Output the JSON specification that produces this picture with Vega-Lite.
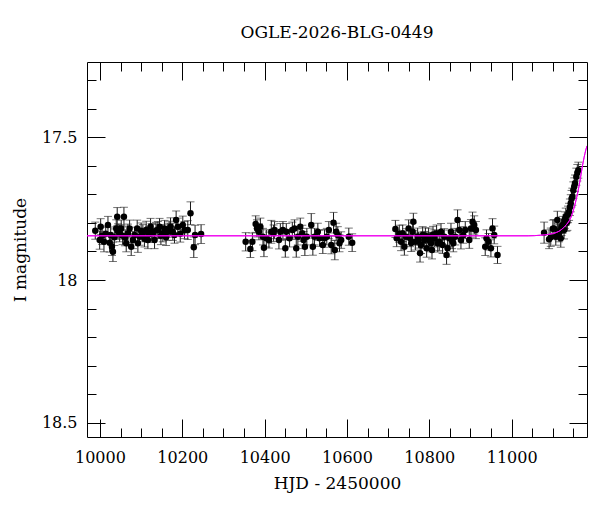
{
  "$schema": "https://vega.github.io/schema/vega-lite/v6.json",
  "description": "OGLE EWS style light curve with Paczynski model rising at the end.",
  "width": 500,
  "height": 375,
  "autosize": {"type": "none"},
  "padding": {"left": 87, "top": 62, "right": 13, "bottom": 75},
  "background": "white",
  "title": {
    "text": "OGLE-2026-BLG-0449",
    "font": "DejaVu Serif",
    "fontSize": 17,
    "fontWeight": "normal",
    "color": "black",
    "anchor": "middle",
    "offset": 20
  },
  "datasets": {
    "phot": [
      {"t": 9988.6, "mag": 17.827, "err": 0.030},
      {"t": 9999.3, "mag": 17.860, "err": 0.032},
      {"t": 10001.7, "mag": 17.813, "err": 0.028},
      {"t": 10005.0, "mag": 17.845, "err": 0.030},
      {"t": 10009.7, "mag": 17.866, "err": 0.035},
      {"t": 10014.0, "mag": 17.838, "err": 0.027},
      {"t": 10019.4, "mag": 17.807, "err": 0.030},
      {"t": 10023.5, "mag": 17.869, "err": 0.033},
      {"t": 10026.0, "mag": 17.842, "err": 0.028},
      {"t": 10029.1, "mag": 17.883, "err": 0.031},
      {"t": 10031.5, "mag": 17.901, "err": 0.034},
      {"t": 10035.0, "mag": 17.850, "err": 0.029},
      {"t": 10039.5, "mag": 17.819, "err": 0.030},
      {"t": 10041.9, "mag": 17.778, "err": 0.032},
      {"t": 10044.0, "mag": 17.830, "err": 0.027},
      {"t": 10047.8, "mag": 17.836, "err": 0.030},
      {"t": 10051.6, "mag": 17.819, "err": 0.029},
      {"t": 10055.0, "mag": 17.845, "err": 0.031},
      {"t": 10058.2, "mag": 17.778, "err": 0.033},
      {"t": 10061.0, "mag": 17.852, "err": 0.028},
      {"t": 10063.8, "mag": 17.871, "err": 0.030},
      {"t": 10067.9, "mag": 17.836, "err": 0.032},
      {"t": 10072.0, "mag": 17.819, "err": 0.029},
      {"t": 10075.9, "mag": 17.883, "err": 0.031},
      {"t": 10080.0, "mag": 17.860, "err": 0.030},
      {"t": 10084.0, "mag": 17.842, "err": 0.027},
      {"t": 10090.4, "mag": 17.819, "err": 0.029},
      {"t": 10092.1, "mag": 17.871, "err": 0.032},
      {"t": 10096.2, "mag": 17.848, "err": 0.030},
      {"t": 10100.0, "mag": 17.828, "err": 0.028},
      {"t": 10104.2, "mag": 17.836, "err": 0.030},
      {"t": 10108.0, "mag": 17.855, "err": 0.029},
      {"t": 10112.2, "mag": 17.825, "err": 0.031},
      {"t": 10116.4, "mag": 17.860, "err": 0.030},
      {"t": 10119.0, "mag": 17.840, "err": 0.028},
      {"t": 10122.9, "mag": 17.813, "err": 0.029},
      {"t": 10125.5, "mag": 17.832, "err": 0.030},
      {"t": 10128.5, "mag": 17.836, "err": 0.031},
      {"t": 10132.6, "mag": 17.860, "err": 0.030},
      {"t": 10136.0, "mag": 17.826, "err": 0.028},
      {"t": 10140.6, "mag": 17.825, "err": 0.030},
      {"t": 10144.7, "mag": 17.813, "err": 0.029},
      {"t": 10148.0, "mag": 17.845, "err": 0.031},
      {"t": 10152.7, "mag": 17.836, "err": 0.030},
      {"t": 10156.8, "mag": 17.819, "err": 0.028},
      {"t": 10160.5, "mag": 17.850, "err": 0.029},
      {"t": 10164.8, "mag": 17.831, "err": 0.030},
      {"t": 10168.0, "mag": 17.822, "err": 0.028},
      {"t": 10171.4, "mag": 17.813, "err": 0.031},
      {"t": 10177.0, "mag": 17.831, "err": 0.030},
      {"t": 10181.0, "mag": 17.842, "err": 0.029},
      {"t": 10185.0, "mag": 17.790, "err": 0.032},
      {"t": 10189.1, "mag": 17.813, "err": 0.030},
      {"t": 10195.0, "mag": 17.838, "err": 0.029},
      {"t": 10201.2, "mag": 17.807, "err": 0.031},
      {"t": 10205.3, "mag": 17.825, "err": 0.030},
      {"t": 10213.3, "mag": 17.825, "err": 0.033},
      {"t": 10219.9, "mag": 17.766, "err": 0.040},
      {"t": 10227.9, "mag": 17.885, "err": 0.036},
      {"t": 10231.0, "mag": 17.842, "err": 0.034},
      {"t": 10245.6, "mag": 17.839, "err": 0.033},
      {"t": 10353.9, "mag": 17.866, "err": 0.032},
      {"t": 10365.3, "mag": 17.891, "err": 0.030},
      {"t": 10370.2, "mag": 17.866, "err": 0.031},
      {"t": 10378.2, "mag": 17.804, "err": 0.029},
      {"t": 10381.3, "mag": 17.819, "err": 0.030},
      {"t": 10386.2, "mag": 17.831, "err": 0.028},
      {"t": 10389.6, "mag": 17.813, "err": 0.030},
      {"t": 10395.9, "mag": 17.848, "err": 0.029},
      {"t": 10398.3, "mag": 17.887, "err": 0.031},
      {"t": 10404.1, "mag": 17.854, "err": 0.030},
      {"t": 10410.4, "mag": 17.860, "err": 0.028},
      {"t": 10416.2, "mag": 17.831, "err": 0.040},
      {"t": 10421.8, "mag": 17.836, "err": 0.029},
      {"t": 10424.2, "mag": 17.825, "err": 0.030},
      {"t": 10434.7, "mag": 17.860, "err": 0.031},
      {"t": 10438.1, "mag": 17.831, "err": 0.029},
      {"t": 10444.4, "mag": 17.825, "err": 0.030},
      {"t": 10450.2, "mag": 17.889, "err": 0.031},
      {"t": 10452.6, "mag": 17.831, "err": 0.029},
      {"t": 10460.6, "mag": 17.854, "err": 0.030},
      {"t": 10467.2, "mag": 17.825, "err": 0.028},
      {"t": 10472.7, "mag": 17.819, "err": 0.030},
      {"t": 10476.8, "mag": 17.889, "err": 0.031},
      {"t": 10480.7, "mag": 17.848, "err": 0.029},
      {"t": 10486.5, "mag": 17.813, "err": 0.030},
      {"t": 10491.4, "mag": 17.836, "err": 0.028},
      {"t": 10494.5, "mag": 17.860, "err": 0.030},
      {"t": 10497.7, "mag": 17.883, "err": 0.031},
      {"t": 10502.5, "mag": 17.848, "err": 0.029},
      {"t": 10513.2, "mag": 17.807, "err": 0.040},
      {"t": 10517.1, "mag": 17.883, "err": 0.030},
      {"t": 10521.2, "mag": 17.848, "err": 0.029},
      {"t": 10529.2, "mag": 17.831, "err": 0.030},
      {"t": 10533.3, "mag": 17.854, "err": 0.028},
      {"t": 10541.3, "mag": 17.877, "err": 0.030},
      {"t": 10545.5, "mag": 17.854, "err": 0.031},
      {"t": 10551.0, "mag": 17.848, "err": 0.029},
      {"t": 10555.9, "mag": 17.825, "err": 0.030},
      {"t": 10561.7, "mag": 17.877, "err": 0.031},
      {"t": 10567.3, "mag": 17.799, "err": 0.036},
      {"t": 10570.4, "mag": 17.895, "err": 0.034},
      {"t": 10573.8, "mag": 17.831, "err": 0.030},
      {"t": 10577.7, "mag": 17.842, "err": 0.029},
      {"t": 10581.8, "mag": 17.871, "err": 0.030},
      {"t": 10585.9, "mag": 17.860, "err": 0.029},
      {"t": 10604.4, "mag": 17.848, "err": 0.030},
      {"t": 10612.6, "mag": 17.869, "err": 0.031},
      {"t": 10717.6, "mag": 17.821, "err": 0.030},
      {"t": 10720.7, "mag": 17.854, "err": 0.029},
      {"t": 10727.0, "mag": 17.838, "err": 0.030},
      {"t": 10731.4, "mag": 17.866, "err": 0.031},
      {"t": 10735.3, "mag": 17.836, "err": 0.029},
      {"t": 10739.4, "mag": 17.883, "err": 0.030},
      {"t": 10743.5, "mag": 17.848, "err": 0.028},
      {"t": 10749.8, "mag": 17.819, "err": 0.030},
      {"t": 10753.2, "mag": 17.854, "err": 0.029},
      {"t": 10756.0, "mag": 17.870, "err": 0.030},
      {"t": 10759.5, "mag": 17.831, "err": 0.031},
      {"t": 10761.2, "mag": 17.796, "err": 0.030},
      {"t": 10766.1, "mag": 17.866, "err": 0.029},
      {"t": 10771.6, "mag": 17.848, "err": 0.030},
      {"t": 10774.0, "mag": 17.860, "err": 0.028},
      {"t": 10777.5, "mag": 17.906, "err": 0.031},
      {"t": 10779.9, "mag": 17.877, "err": 0.030},
      {"t": 10783.8, "mag": 17.842, "err": 0.029},
      {"t": 10787.9, "mag": 17.860, "err": 0.030},
      {"t": 10790.5, "mag": 17.845, "err": 0.028},
      {"t": 10793.5, "mag": 17.889, "err": 0.031},
      {"t": 10798.3, "mag": 17.848, "err": 0.030},
      {"t": 10801.0, "mag": 17.862, "err": 0.029},
      {"t": 10804.1, "mag": 17.871, "err": 0.030},
      {"t": 10806.5, "mag": 17.895, "err": 0.031},
      {"t": 10809.0, "mag": 17.840, "err": 0.028},
      {"t": 10812.1, "mag": 17.854, "err": 0.030},
      {"t": 10817.7, "mag": 17.836, "err": 0.029},
      {"t": 10820.5, "mag": 17.872, "err": 0.030},
      {"t": 10824.2, "mag": 17.866, "err": 0.031},
      {"t": 10828.4, "mag": 17.831, "err": 0.029},
      {"t": 10832.2, "mag": 17.877, "err": 0.030},
      {"t": 10836.4, "mag": 17.848, "err": 0.028},
      {"t": 10841.9, "mag": 17.912, "err": 0.033},
      {"t": 10844.4, "mag": 17.889, "err": 0.030},
      {"t": 10848.5, "mag": 17.854, "err": 0.029},
      {"t": 10852.6, "mag": 17.831, "err": 0.030},
      {"t": 10855.5, "mag": 17.862, "err": 0.028},
      {"t": 10858.2, "mag": 17.871, "err": 0.030},
      {"t": 10863.0, "mag": 17.848, "err": 0.029},
      {"t": 10868.6, "mag": 17.790, "err": 0.036},
      {"t": 10872.7, "mag": 17.825, "err": 0.030},
      {"t": 10876.8, "mag": 17.860, "err": 0.031},
      {"t": 10882.4, "mag": 17.842, "err": 0.029},
      {"t": 10887.3, "mag": 17.825, "err": 0.030},
      {"t": 10897.0, "mag": 17.860, "err": 0.029},
      {"t": 10901.1, "mag": 17.819, "err": 0.031},
      {"t": 10905.0, "mag": 17.796, "err": 0.034},
      {"t": 10909.1, "mag": 17.807, "err": 0.032},
      {"t": 10913.2, "mag": 17.825, "err": 0.030},
      {"t": 10935.8, "mag": 17.883, "err": 0.031},
      {"t": 10938.9, "mag": 17.854, "err": 0.030},
      {"t": 10943.8, "mag": 17.866, "err": 0.029},
      {"t": 10949.6, "mag": 17.889, "err": 0.030},
      {"t": 10953.5, "mag": 17.819, "err": 0.034},
      {"t": 10957.6, "mag": 17.842, "err": 0.031},
      {"t": 10965.6, "mag": 17.912, "err": 0.030},
      {"t": 11078.8, "mag": 17.834, "err": 0.037},
      {"t": 11090.9, "mag": 17.857, "err": 0.033},
      {"t": 11095.0, "mag": 17.850, "err": 0.032},
      {"t": 11100.0, "mag": 17.820, "err": 0.030},
      {"t": 11103.0, "mag": 17.819, "err": 0.031},
      {"t": 11107.2, "mag": 17.848, "err": 0.030},
      {"t": 11111.0, "mag": 17.790, "err": 0.031},
      {"t": 11113.0, "mag": 17.830, "err": 0.029},
      {"t": 11115.2, "mag": 17.836, "err": 0.030},
      {"t": 11119.3, "mag": 17.854, "err": 0.031},
      {"t": 11121.0, "mag": 17.815, "err": 0.029},
      {"t": 11123.2, "mag": 17.807, "err": 0.030},
      {"t": 11127.3, "mag": 17.825, "err": 0.031},
      {"t": 11129.0, "mag": 17.790, "err": 0.029},
      {"t": 11131.4, "mag": 17.778, "err": 0.030},
      {"t": 11133.0, "mag": 17.800, "err": 0.029},
      {"t": 11135.3, "mag": 17.796, "err": 0.030},
      {"t": 11137.0, "mag": 17.770, "err": 0.029},
      {"t": 11139.4, "mag": 17.761, "err": 0.030},
      {"t": 11141.5, "mag": 17.745, "err": 0.029},
      {"t": 11143.5, "mag": 17.731, "err": 0.030},
      {"t": 11145.5, "mag": 17.715, "err": 0.029},
      {"t": 11147.4, "mag": 17.708, "err": 0.030},
      {"t": 11149.8, "mag": 17.685, "err": 0.029},
      {"t": 11152.0, "mag": 17.672, "err": 0.030},
      {"t": 11153.9, "mag": 17.661, "err": 0.029},
      {"t": 11157.1, "mag": 17.638, "err": 0.030},
      {"t": 11159.5, "mag": 17.624, "err": 0.029},
      {"t": 11161.9, "mag": 17.615, "err": 0.028}
    ],
    "model": [
      {"t": 9968.5, "mag": 17.845},
      {"t": 11040, "mag": 17.845},
      {"t": 11070, "mag": 17.843},
      {"t": 11090, "mag": 17.840},
      {"t": 11105, "mag": 17.835},
      {"t": 11115, "mag": 17.829},
      {"t": 11125, "mag": 17.818},
      {"t": 11133, "mag": 17.806},
      {"t": 11140, "mag": 17.792},
      {"t": 11146, "mag": 17.773},
      {"t": 11151, "mag": 17.750},
      {"t": 11156, "mag": 17.722},
      {"t": 11161, "mag": 17.690},
      {"t": 11166, "mag": 17.652},
      {"t": 11171, "mag": 17.608},
      {"t": 11176, "mag": 17.570},
      {"t": 11180, "mag": 17.545},
      {"t": 11183, "mag": 17.530}
    ]
  },
  "resolve": {"axis": {"x": "independent", "y": "independent"}},
  "layer": [
    {
      "data": {"name": "phot"},
      "mark": {
        "type": "errorbar",
        "rule": {"color": "#1a1a1a", "strokeWidth": 1},
        "ticks": {"size": 8, "color": "#3a3a3a", "thickness": 1}
      },
      "encoding": {
        "x": {
          "field": "t", "type": "quantitative",
          "scale": {"domain": [9968.5, 11183], "nice": false, "zero": false},
          "axis": {"orient": "bottom", "values": [10000, 10050, 10100, 10150, 10200, 10250, 10300, 10350, 10400, 10450, 10500, 10550, 10600, 10650, 10700, 10750, 10800, 10850, 10900, 10950, 11000, 11050, 11100, 11150], "tickSize": -9, "labels": false, "title": null}
        },
        "y": {
          "field": "mag", "type": "quantitative",
          "scale": {"domain": [17.236, 18.55], "reverse": true, "nice": false, "zero": false},
          "axis": {"orient": "left", "values": [17.3, 17.4, 17.5, 17.6, 17.7, 17.8, 17.9, 18.0, 18.1, 18.2, 18.3, 18.4, 18.5], "tickSize": -9, "labels": false, "title": null}
        },
        "yError": {"field": "err"}
      }
    },
    {
      "data": {"name": "phot"},
      "mark": {"type": "circle", "size": 42, "color": "black", "opacity": 1},
      "encoding": {
        "x": {
          "field": "t", "type": "quantitative",
          "scale": {"domain": [9968.5, 11183], "nice": false, "zero": false},
          "axis": {"orient": "bottom", "values": [10000, 10200, 10400, 10600, 10800, 11000], "format": "d", "tickSize": -18, "labelPadding": 30, "title": "HJD - 2450000", "titlePadding": 10}
        },
        "y": {
          "field": "mag", "type": "quantitative",
          "scale": {"domain": [17.236, 18.55], "reverse": true, "nice": false, "zero": false},
          "axis": {"orient": "left", "values": [17.5, 18, 18.5], "format": "~g", "tickSize": -18, "labelPadding": 28, "title": "I magnitude", "titlePadding": 12}
        }
      }
    },
    {
      "data": {"name": "model"},
      "mark": {"type": "line", "color": "#ee00ee", "strokeWidth": 1, "clip": true, "interpolate": "monotone"},
      "encoding": {
        "x": {
          "field": "t", "type": "quantitative",
          "scale": {"domain": [9968.5, 11183], "nice": false, "zero": false},
          "axis": {"orient": "top", "values": [10000, 10200, 10400, 10600, 10800, 11000], "tickSize": -18, "labels": false, "title": null}
        },
        "y": {
          "field": "mag", "type": "quantitative",
          "scale": {"domain": [17.236, 18.55], "reverse": true, "nice": false, "zero": false},
          "axis": {"orient": "right", "values": [17.5, 18, 18.5], "tickSize": -18, "labels": false, "title": null}
        }
      }
    },
    {
      "data": {"name": "model"},
      "mark": {"type": "line", "color": "#ee00ee", "strokeWidth": 1, "clip": true, "interpolate": "monotone"},
      "encoding": {
        "x": {
          "field": "t", "type": "quantitative",
          "scale": {"domain": [9968.5, 11183], "nice": false, "zero": false},
          "axis": {"orient": "top", "values": [10000, 10050, 10100, 10150, 10200, 10250, 10300, 10350, 10400, 10450, 10500, 10550, 10600, 10650, 10700, 10750, 10800, 10850, 10900, 10950, 11000, 11050, 11100, 11150], "tickSize": -9, "labels": false, "title": null}
        },
        "y": {
          "field": "mag", "type": "quantitative",
          "scale": {"domain": [17.236, 18.55], "reverse": true, "nice": false, "zero": false},
          "axis": {"orient": "right", "values": [17.3, 17.4, 17.5, 17.6, 17.7, 17.8, 17.9, 18.0, 18.1, 18.2, 18.3, 18.4, 18.5], "tickSize": -9, "labels": false, "title": null}
        }
      }
    }
  ],
  "config": {
    "font": "DejaVu Serif",
    "view": {"stroke": "black", "strokeWidth": 1},
    "axis": {
      "domain": false,
      "grid": false,
      "ticks": true,
      "tickColor": "black",
      "tickWidth": 1,
      "labelFont": "DejaVu Serif",
      "labelFontSize": 16,
      "labelColor": "black",
      "titleFont": "DejaVu Serif",
      "titleFontSize": 17,
      "titleFontWeight": "normal",
      "titleColor": "black"
    }
  }
}
